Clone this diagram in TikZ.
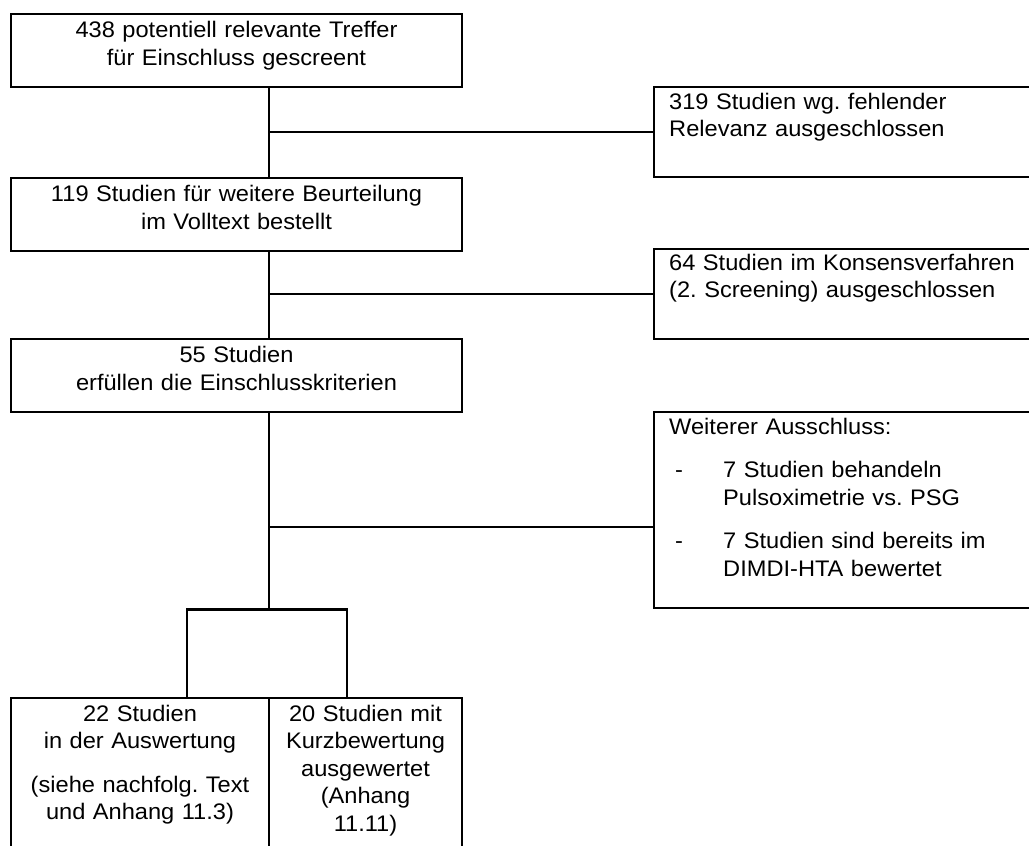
\documentclass[tikz,border=0pt]{standalone}
\usepackage{fontspec}
\setmainfont{Liberation Sans}[FakeStretch=1.05]
\usetikzlibrary{positioning, calc}

\begin{document}
\begin{tikzpicture}[
    x=1pt, y=-1pt,
    line width=2.4pt,
    every node/.style={font=\fontsize{22.5}{27.5}\selectfont\frenchspacing},
    stage/.style={rectangle, draw, anchor=north, inner xsep=0pt, inner ysep=0pt,
                  text width=451pt, align=center, text height=23.5pt, text depth=49.5pt},
    excl/.style={rectangle, draw, anchor=north west, inner xsep=15pt, inner ysep=0pt,
                 text width=500pt, align=left, text height=22pt},
    result/.style={rectangle, draw, anchor=north, inner xsep=0pt, inner ysep=0pt,
                   align=center, text height=23pt, text depth=200pt},
]

% ============== page ==============
\path[use as bounding box, fill=white] (0,0) rectangle (1029,846);
\clip (0,0) rectangle (1029,846);
\coordinate (axis) at (269,0);

% ============== main column ==============
\node[stage] (scr) at (236.5,13) {438 potentiell relevante Treffer\\f\"ur Einschluss gescreent};
\node[stage] (ord) at (236.5,177) {119 Studien f\"ur weitere Beurteilung\\im Volltext bestellt};
\node[stage] (inc) at (236.5,338) {55 Studien\\erf\"ullen die Einschlusskriterien};

% ============== exclusions ==============
\node[excl, text depth=68pt] (ex1) at (653,86) {319 Studien wg. fehlender\\Relevanz ausgeschlossen};
\node[excl, text height=21pt, text depth=69pt] (ex2) at (653,248) {64 Studien im Konsensverfahren\\(2. Screening) ausgeschlossen};
\node[excl, text depth=174pt] (ex3) at (653,411) {\setlength{\parskip}{16pt}Weiterer Ausschluss:\par
  \hangindent=54pt\hangafter=1\makebox[54pt][l]{\hspace{6pt}-}7 Studien behandeln\newline Pulsoximetrie vs. PSG\par
  \hangindent=54pt\hangafter=1\makebox[54pt][l]{\hspace{6pt}-}7 Studien sind bereits im\newline DIMDI-HTA bewertet\par};
\coordinate (ex3in) at ([yshift=-17pt]ex3.west);

% ============== results ==============
\node[result, text width=258pt] (res1) at (140,697) {\setlength{\parskip}{16pt}22 Studien\\in der Auswertung\par
  (siehe nachfolg. Text\\und Anhang 11.3)};
\node[result, text width=193pt] (res2) at (365.5,697) {20 Studien mit\\Kurzbewertung\\ausgewertet\\(Anhang\\11.11)};

% ============== connectors ==============
\draw (scr.south -| axis) -- (ord.north -| axis);
\draw (ex1.west -| axis) -- (ex1.west);
\draw (ord.south -| axis) -- (inc.north -| axis);
\draw (ex2.west -| axis) -- (ex2.west);
\draw (inc.south -| axis) -- (ex3.south -| axis);
\draw (ex3in -| axis) -- (ex3in);
\draw ([xshift=47pt]res1.north) |- (ex3.south -| axis) -| ([xshift=-18.5pt]res2.north);

\end{tikzpicture}
\end{document}
